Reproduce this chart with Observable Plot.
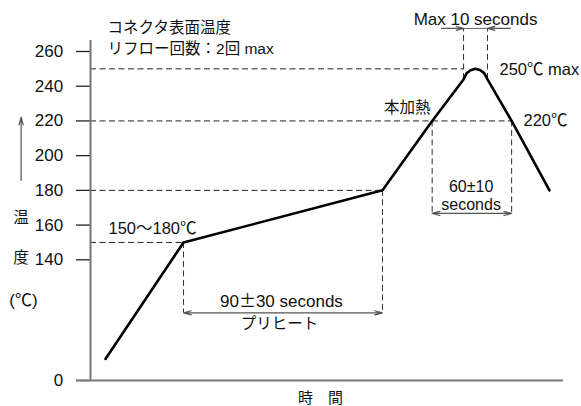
<!DOCTYPE html>
<html><head><meta charset="utf-8">
<script src="https://cdn.jsdelivr.net/npm/d3@7"></script>
<script src="https://cdn.jsdelivr.net/npm/@observablehq/plot@0.6"></script>
<style>body{margin:0;background:#fff}#chart{width:581px;height:406px}</style>
</head><body><div id="chart"></div>
<script>
// Reflow profile (schematic); time in arbitrary seconds, temperature in °C
const profileTime = [9.5, 59, 185.2, 216.7, 236.6, 238.5, 241.0, 244.1, 247.3, 249.8, 251.8, 267.1, 291.1];
const profileTemp = [25, 150, 180, 220, 243.9, 247.4, 249.2, 250, 249.2, 247.4, 243.9, 220, 180];
const yTicks = [0, 140, 160, 180, 200, 220, 240, 260];

// reference (dashed) lines
const hRefTemp = [250, 220, 180, 150];
const hRefEnd  = [236.6, 267.1, 185.2, 59];
const vRefTime = [59, 185.2, 216.7, 267.1, 236.6, 251.8];
const vRefFrom = [150, 180, 220, 220, 243.9, 243.9];
const vRefTo   = [78.5, 78.5, 166.7, 166.7, 273.3, 273.3];

// annotations
const labels = [
  {t: 10.8, T: 273.8, text: "コネクタ表面温度", anchor: "start", size: 15.5, lh: 1},
  {t: 10.8, T: 261.7, text: "リフロー回数：2回 max", anchor: "start", size: 15.5, lh: 1},
  {t: 244.2, T: 278.4, text: "Max 10 seconds", anchor: "middle", size: 17, lh: 1},
  {t: 259.4, T: 249.4, text: "250℃ max", anchor: "start", size: 16.5, lh: 1},
  {t: 215.6, T: 227.2, text: "本加熱", anchor: "end", size: 15.5, lh: 1},
  {t: 274.6, T: 220.2, text: "220℃", anchor: "start", size: 16.5, lh: 1},
  {t: 11.4, T: 158, text: "150〜180℃", anchor: "start", size: 16.5, lh: 1},
  {t: 241.4, T: 177, text: "60±10\nseconds", anchor: "middle", size: 16, lh: 1.12},
  {t: 121.1, T: 91.6, text: "90±30 seconds", anchor: "middle", size: 17, lh: 1},
  {t: 119.9, T: 65, text: "プリヒート", anchor: "middle", size: 15.5, lh: 1},
  {t: 145.9, T: -21, text: "時　間", anchor: "middle", size: 15, lh: 1},
  {t: -44.1, T: 163.8, text: "温", anchor: "middle", size: 15.5, lh: 1},
  {t: -44.1, T: 141.3, text: "度", anchor: "middle", size: 15.5, lh: 1},
  {t: -42.5, T: 92.8, text: "(℃)", anchor: "middle", size: 17, lh: 1}
];

const profile = profileTime.map((t, i) => ({t, T: profileTemp[i]}));
const hRefs = hRefTemp.map((T, i) => ({T, x2: hRefEnd[i]}));
const vRefs = vRefTime.map((t, i) => ({t, y1: vRefFrom[i], y2: vRefTo[i]}));

// dimension arrows (from, to) in data units
const arrows = [
  {x1: 122, y1: 78.5, x2: 59, y2: 78.5},
  {x1: 122, y1: 78.5, x2: 185.2, y2: 78.5},
  {x1: 242, y1: 166.7, x2: 216.7, y2: 166.7},
  {x1: 242, y1: 166.7, x2: 267.1, y2: 166.7},
  {x1: 222.6, y1: 273.3, x2: 236.6, y2: 273.3},
  {x1: 266.3, y1: 273.3, x2: 251.8, y2: 273.3},
  {x1: -44, y1: 185.7, x2: -44, y2: 222.2}
];

// broken temperature axis: 0–140 compressed, 140–260 full scale
const BREAK = 140, K = 0.4967;
const brk = v => v < BREAK ? v * K : BREAK * K + (v - BREAK);

const textMarks = labels.map(d => Plot.text([d], {x: "t", y: "T", text: "text", textAnchor: d.anchor, fontSize: d.size, lineHeight: d.lh, fill: "#111"}));

const chart = Plot.plot({
  width: 581, height: 406,
  marginLeft: 90, marginRight: 18, marginTop: 40, marginBottom: 26,
  style: {fontFamily: "'Liberation Sans','Noto Sans CJK JP',sans-serif", fontSize: "16px", overflow: "visible", background: "#fff"},
  x: {domain: [0, 300], axis: null},
  y: {transform: brk, domain: [brk(0), brk(260)], range: [380, 51], axis: null},
  marks: [
    Plot.ruleY(hRefs, {y: "T", x1: 0, x2: "x2", stroke: "#222", strokeWidth: 1, strokeDasharray: "6,3.5"}),
    Plot.ruleX(vRefs, {x: "t", y1: "y1", y2: "y2", stroke: "#333", strokeWidth: 1, strokeDasharray: "6,3.5"}),
    Plot.ruleY([273.3], {x1: 236.6, x2: 251.8, stroke: "#666", strokeWidth: 1}),
    Plot.arrow(arrows, {x1: "x1", y1: "y1", x2: "x2", y2: "y2", stroke: "#555", strokeWidth: 1.2, headLength: 10, headAngle: 30}),
    Plot.ruleY(yTicks, {y: d => d, x1: -8.9, x2: 0, stroke: "#222", strokeWidth: 1.3}),
    Plot.text(yTicks, {y: d => d, x: 0, text: d => String(d), dx: -27.3, textAnchor: "end", fontSize: 17, fill: "#111"}),
    Plot.ruleX([0], {y1: 0, y2: 266.3, stroke: "#777", strokeWidth: 2}),
    Plot.ruleY([0], {x1: -8.9, x2: 300, stroke: "#777", strokeWidth: 2}),
    Plot.line(profile, {x: "t", y: "T", stroke: "#000", strokeWidth: 2.6, strokeLinejoin: "round"}),
    ...textMarks
  ]
});
// render the plus-minus sign of the single-line label with the full-width Japanese glyph
const walker = document.createTreeWalker(chart, NodeFilter.SHOW_TEXT);
const pmNodes = [];
while (walker.nextNode()) {
  const v = walker.currentNode.nodeValue;
  if (v.includes("±") && v.includes("seconds")) pmNodes.push(walker.currentNode);
}
pmNodes.forEach(node => {
  const parts = node.nodeValue.split("±");
  const frag = document.createDocumentFragment();
  parts.forEach((p, i) => {
    if (i > 0) {
      const ts = document.createElementNS("http://www.w3.org/2000/svg", "tspan");
      ts.setAttribute("font-family", "'Noto Sans CJK JP'");
      ts.textContent = "±";
      frag.appendChild(ts);
    }
    frag.appendChild(document.createTextNode(p));
  });
  node.parentNode.replaceChild(frag, node);
});
document.getElementById("chart").appendChild(chart);
</script>
</body></html>
